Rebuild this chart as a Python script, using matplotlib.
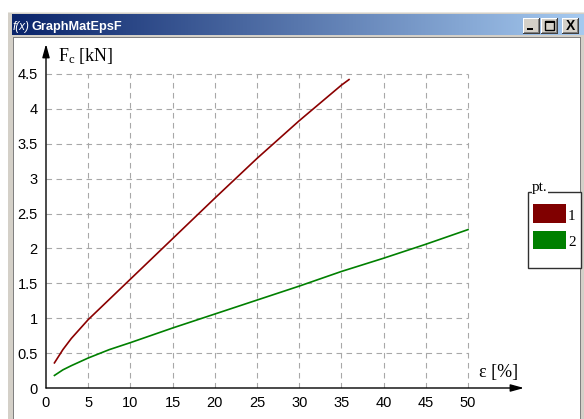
import numpy as np
import matplotlib
matplotlib.use("Agg")
import matplotlib.pyplot as plt
from matplotlib.patches import Rectangle
from matplotlib.colors import LinearSegmentedColormap

# ---------------- data ----------------
eps_1 = [1, 2, 3, 5, 7.5, 10, 15, 20, 25, 30, 35, 35.9]
F_1 = [0.36, 0.55, 0.71, 0.98, 1.27, 1.56, 2.14, 2.72, 3.29, 3.83, 4.34, 4.42]

eps_2 = [1, 2, 3, 5, 7.5, 10, 15, 20, 25, 30, 35, 40, 45, 50]
F_2 = [0.18, 0.26, 0.32, 0.43, 0.55, 0.65, 0.86, 1.06, 1.26, 1.46, 1.67, 1.86, 2.06, 2.27]

x_ticks = [0, 5, 10, 15, 20, 25, 30, 35, 40, 45, 50]
y_ticks = [0, 0.5, 1, 1.5, 2, 2.5, 3, 3.5, 4, 4.5]
y_tick_labels = ["0", "0.5", "1", "1.5", "2", "2.5", "3", "3.5", "4", "4.5"]
legend_title = "pt."
legend_labels = ["1", "2"]
colors = ["#8b0000", "#008000"]
swatch_colors = ["#800000", "#008000"]
window_title = "GraphMatEpsF"

# ---------------- figure ----------------
W, H = 584, 419
fig = plt.figure(figsize=(W / 100, H / 100), dpi=100)
fig.patch.set_facecolor("white")

plt.rcParams["mathtext.fontset"] = "custom"
plt.rcParams["mathtext.rm"] = "Liberation Serif"
plt.rcParams["mathtext.it"] = "Liberation Serif:italic"


def fx(x):
    return x / W


def fy(y):
    return 1 - y / H


def rect(x0, y0, x1, y1, **kw):
    r = Rectangle((fx(x0), fy(y1)), fx(x1) - fx(x0), fy(y0) - fy(y1),
                  transform=fig.transFigure, **kw)
    fig.add_artist(r)
    return r


# window frame
rect(8, 12, 584, 419, facecolor="#d4d0c8", edgecolor="none", zorder=0.1)
rect(8, 12, 584, 13, facecolor="#e8e6e0", edgecolor="none", zorder=0.2)
# client area
rect(13, 37, 581, 419, facecolor="#808080", edgecolor="none", zorder=0.2)
rect(14, 38, 580, 419, facecolor="white", edgecolor="none", zorder=0.3)

# title bar gradient
tax = fig.add_axes([fx(12), fy(35), fx(584) - fx(12), fy(14) - fy(35)], zorder=0.5)
grad = np.linspace(0, 1, 256)[None, :]
cmap = LinearSegmentedColormap.from_list("tb", ["#0a246a", "#a6caf0"])
tax.imshow(grad, aspect="auto", cmap=cmap, extent=[0, 1, 0, 1])
tax.set_axis_off()

fig.text(fx(13), fy(30), "f(x)", color="white", fontsize=8.5, style="italic",
         family="Liberation Sans", va="baseline", ha="left", zorder=5)
fig.text(fx(31), fy(30), window_title, color="white", fontsize=9.2, weight="bold",
         family="Liberation Sans", va="baseline", ha="left", zorder=5)

# buttons
for (bx0, bx1) in [(523, 540), (541, 558), (562, 579)]:
    rect(bx0, 18, bx1, 34, facecolor="#404040", edgecolor="none", zorder=4)
    rect(bx0, 18, bx1 - 1, 33, facecolor="white", edgecolor="none", zorder=4.1)
    rect(bx0 + 1, 19, bx1 - 1, 33, facecolor="#808080", edgecolor="none", zorder=4.2)
    rect(bx0 + 1, 19, bx1 - 2, 32, facecolor="#d4d0c8", edgecolor="none", zorder=4.3)
# minimize glyph
rect(527, 28, 533, 30, facecolor="black", edgecolor="none", zorder=5)
# maximize glyph
rect(545, 21, 554, 30, facecolor="none", edgecolor="black", lw=1.0, zorder=5)
rect(545, 21, 554, 23, facecolor="black", edgecolor="none", zorder=5)
# close glyph
fig.text(fx(570.5), fy(26), "X", color="black", fontsize=10, weight="bold",
         family="Liberation Sans", ha="center", va="center", zorder=6)

# ---------------- main axes ----------------
x_px0, x_px1 = 46, 524
y_px0, y_px1 = 388, 44
px_per_x = 8.44
px_per_y = 69.78
ax = fig.add_axes([fx(x_px0), fy(y_px0), fx(x_px1) - fx(x_px0), fy(y_px1) - fy(y_px0)],
                  zorder=1)
ax.set_facecolor("none")
ax.set_xlim(0, (x_px1 - x_px0) / px_per_x)
ax.set_ylim(0, (y_px0 - y_px1) / px_per_y)
for s in ax.spines.values():
    s.set_visible(False)

grid_kw = dict(color="#a8a8a8", lw=0.8, linestyles=(0, (5, 4)), zorder=1)
ax.vlines(x_ticks[1:], 0, max(y_ticks), **grid_kw)
ax.hlines(y_ticks[1:], 0, max(x_ticks), **grid_kw)

ax.plot(eps_1, F_1, color=colors[0], lw=1.2, zorder=3)
ax.plot(eps_2, F_2, color=colors[1], lw=1.2, zorder=3)

arrow_kw = dict(arrowstyle="-|>,head_length=0.8,head_width=0.22", color="black",
                lw=1.0, shrinkA=0, shrinkB=0, mutation_scale=10)
ax.annotate("", xy=(1, 0), xytext=(0, 0), xycoords="axes fraction",
            textcoords="axes fraction", arrowprops=arrow_kw, zorder=4)
ax.annotate("", xy=(0, 1), xytext=(0, 0), xycoords="axes fraction",
            textcoords="axes fraction", arrowprops=arrow_kw, zorder=4)

ax.set_xticks(x_ticks)
ax.set_xticklabels([str(v) for v in x_ticks])
ax.set_yticks(y_ticks)
ax.set_yticklabels(y_tick_labels)
ax.tick_params(axis="both", length=0, labelsize=10.5, colors="black")
ax.tick_params(axis="x", pad=6)
ax.tick_params(axis="y", pad=6)
for lab in ax.get_xticklabels() + ax.get_yticklabels():
    lab.set_family("Liberation Sans")

# axis labels
fig.text(fx(58), fy(61), r"F$_\mathrm{c}$ [kN]", fontsize=13, family="Liberation Serif",
         va="baseline", ha="left", zorder=5)
fig.text(fx(479), fy(377), "ε [%]", fontsize=13, family="Liberation Serif",
         va="baseline", ha="left", zorder=5)

# ---------------- legend ----------------
rect(527.5, 191.5, 580.5, 268, facecolor="white", edgecolor="#303030", lw=1.0, zorder=5)
fig.text(fx(532), fy(191), legend_title, fontsize=11, family="Liberation Serif",
         va="baseline", ha="left", zorder=7,
         bbox=dict(facecolor="white", edgecolor="none", pad=0.2))
for i, (c, lab) in enumerate(zip(swatch_colors, legend_labels)):
    y0 = 204 + i * 26.5
    rect(533, y0, 566, y0 + 19, facecolor=c, edgecolor="none", zorder=6)
    fig.text(fx(568), fy(y0 + 16), lab, fontsize=11, family="Liberation Serif",
             va="baseline", ha="left", zorder=7)

fig.savefig("out.png", dpi=100, facecolor=fig.get_facecolor())
